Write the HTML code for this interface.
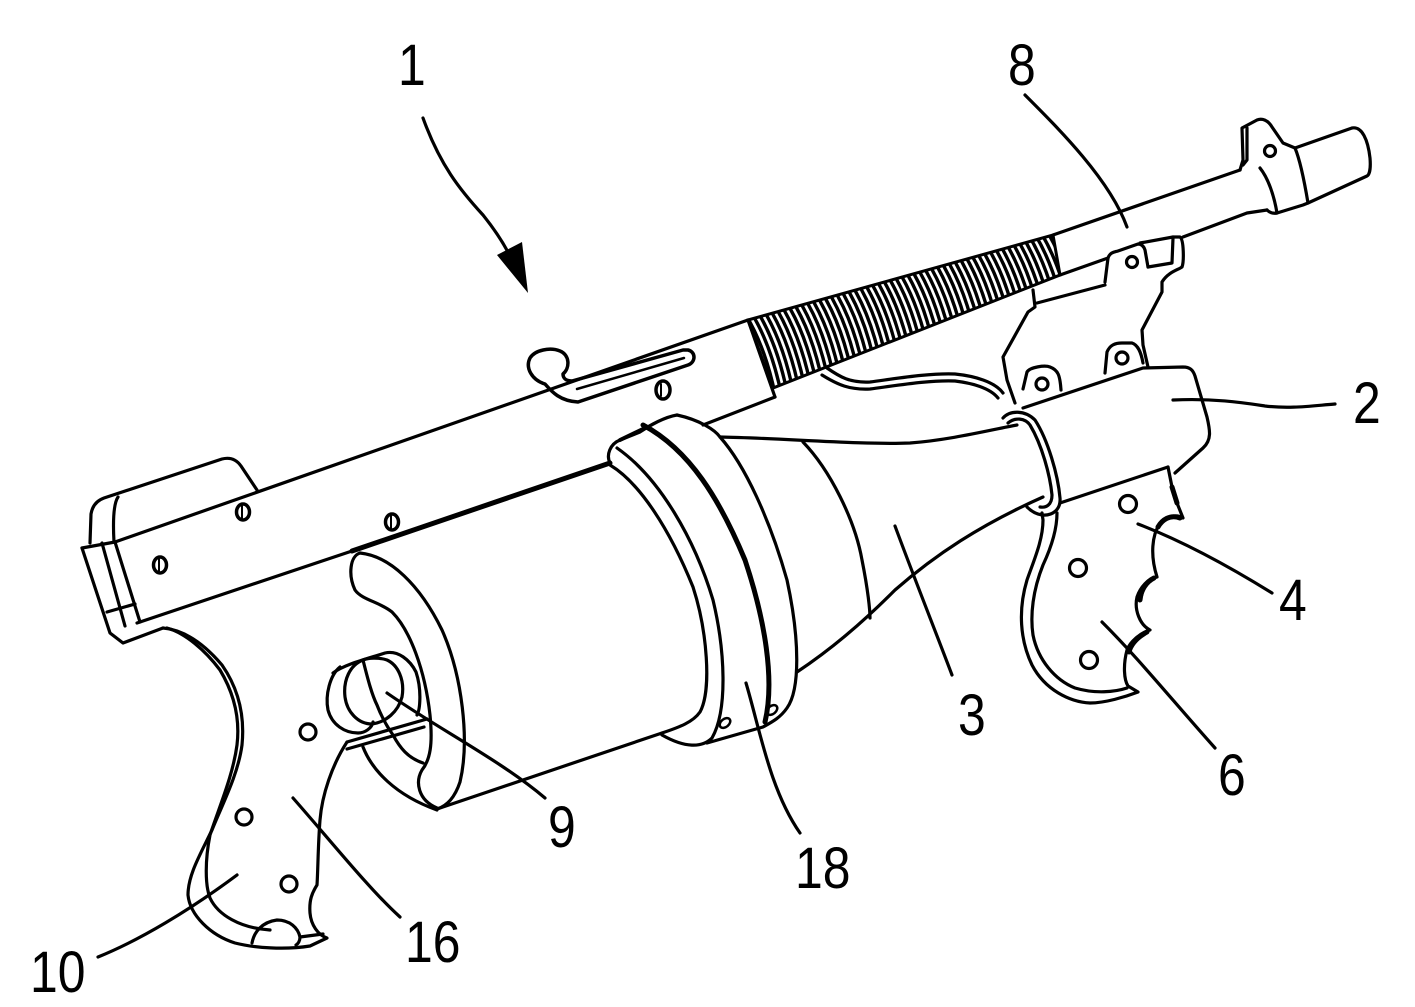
<!DOCTYPE html>
<html><head><meta charset="utf-8"><style>
html,body{margin:0;padding:0;background:#fff;}
svg{display:block;}
text{font-family:"Liberation Sans",Arial,sans-serif;font-size:58px;fill:#000;}
</style></head><body>
<svg width="1415" height="1007" viewBox="0 0 1415 1007" xmlns="http://www.w3.org/2000/svg" xmlns:xlink="http://www.w3.org/1999/xlink">
<defs>
<clipPath id="sp"><polygon points="748,320 1053,235 1060,275 773,388"/></clipPath>
<path id="c" d="M-4,-8 Q20,30 30,90"/>
</defs>

<g clip-path="url(#sp)" fill="none" stroke="#000" stroke-width="3.4">
<use xlink:href="#c" transform="translate(748,320)"/>
<use xlink:href="#c" transform="translate(753.9,318.35)"/>
<use xlink:href="#c" transform="translate(759.8,316.7)"/>
<use xlink:href="#c" transform="translate(765.7,315.05)"/>
<use xlink:href="#c" transform="translate(771.6,313.4)"/>
<use xlink:href="#c" transform="translate(777.5,311.75)"/>
<use xlink:href="#c" transform="translate(783.4,310.1)"/>
<use xlink:href="#c" transform="translate(789.3,308.45)"/>
<use xlink:href="#c" transform="translate(795.2,306.8)"/>
<use xlink:href="#c" transform="translate(801.1,305.15)"/>
<use xlink:href="#c" transform="translate(807,303.5)"/>
<use xlink:href="#c" transform="translate(812.9,301.85)"/>
<use xlink:href="#c" transform="translate(818.8,300.2)"/>
<use xlink:href="#c" transform="translate(824.7,298.55)"/>
<use xlink:href="#c" transform="translate(830.6,296.9)"/>
<use xlink:href="#c" transform="translate(836.5,295.25)"/>
<use xlink:href="#c" transform="translate(842.4,293.6)"/>
<use xlink:href="#c" transform="translate(848.3,291.95)"/>
<use xlink:href="#c" transform="translate(854.2,290.3)"/>
<use xlink:href="#c" transform="translate(860.1,288.65)"/>
<use xlink:href="#c" transform="translate(866,287)"/>
<use xlink:href="#c" transform="translate(871.9,285.35)"/>
<use xlink:href="#c" transform="translate(877.8,283.7)"/>
<use xlink:href="#c" transform="translate(883.7,282.05)"/>
<use xlink:href="#c" transform="translate(889.6,280.4)"/>
<use xlink:href="#c" transform="translate(895.5,278.75)"/>
<use xlink:href="#c" transform="translate(901.4,277.1)"/>
<use xlink:href="#c" transform="translate(907.3,275.45)"/>
<use xlink:href="#c" transform="translate(913.2,273.8)"/>
<use xlink:href="#c" transform="translate(919.1,272.15)"/>
<use xlink:href="#c" transform="translate(925,270.5)"/>
<use xlink:href="#c" transform="translate(930.9,268.85)"/>
<use xlink:href="#c" transform="translate(936.8,267.2)"/>
<use xlink:href="#c" transform="translate(942.7,265.55)"/>
<use xlink:href="#c" transform="translate(948.6,263.9)"/>
<use xlink:href="#c" transform="translate(954.5,262.25)"/>
<use xlink:href="#c" transform="translate(960.4,260.6)"/>
<use xlink:href="#c" transform="translate(966.3,258.95)"/>
<use xlink:href="#c" transform="translate(972.2,257.3)"/>
<use xlink:href="#c" transform="translate(978.1,255.65)"/>
<use xlink:href="#c" transform="translate(984,254)"/>
<use xlink:href="#c" transform="translate(989.9,252.35)"/>
<use xlink:href="#c" transform="translate(995.8,250.7)"/>
<use xlink:href="#c" transform="translate(1001.7,249.05)"/>
<use xlink:href="#c" transform="translate(1007.6,247.4)"/>
<use xlink:href="#c" transform="translate(1013.5,245.75)"/>
<use xlink:href="#c" transform="translate(1019.4,244.1)"/>
<use xlink:href="#c" transform="translate(1025.3,242.45)"/>
<use xlink:href="#c" transform="translate(1031.2,240.8)"/>
<use xlink:href="#c" transform="translate(1037.1,239.15)"/>
<use xlink:href="#c" transform="translate(1043,237.5)"/>
<use xlink:href="#c" transform="translate(1048.9,235.85)"/>
</g>
<polygon points="748,320 1053,235 1060,275 773,388" fill="none" stroke="#000" stroke-width="3"/>

<g fill="none" stroke="#000" stroke-width="3.2" stroke-linecap="round" stroke-linejoin="round">
<path d="M115,542 L748,320"/>
<path d="M137,623 L352,551"/>
<path d="M352,551 L610,463" stroke-width="5"/>
<path d="M703,425 L775,397"/>
<path d="M748,320 L775,397"/>
<path d="M90,543 L91,514 Q93,502 104,498 L222,459 Q234,456 241,466 L257,490"/>
<path d="M118,497 Q112,506 114,542"/>
<path d="M82,548 L110,633 L123,643 L163,628"/>
<path d="M82,548 L115,542"/>
<path d="M102,543 L125,626"/>
<path d="M115,542 L140,622"/>
<path d="M107,612 L135,604"/>
<ellipse cx="160" cy="565" rx="6.5" ry="8" stroke-width="3.5"/>
<path d="M159,559 L159,571" stroke-width="2"/>
<ellipse cx="243" cy="512" rx="6.5" ry="8" stroke-width="3.5"/>
<path d="M242,506 L242,518" stroke-width="2"/>
<ellipse cx="392" cy="522" rx="6.5" ry="8" stroke-width="3.5"/>
<path d="M391,516 L391,528" stroke-width="2"/>
<ellipse cx="663" cy="390" rx="7" ry="9" stroke-width="3.5"/>
<path d="M661,384 L661,396" stroke-width="2"/>

<path d="M563,374 C570,368 570,355 560,351 C550,347 535,350 530,358 C525,368 532,380 545,384 C552,392 560,401 578,402 L688,365 C696,362 696,352 688,350 L683,350 L572,381 C566,381 563,378 563,374 Z" stroke-width="3.5"/>
<path d="M577,389 L684,358" stroke-width="2.5"/>

<path d="M827,368 C840,377 850,383 870,382 C900,378 930,373 955,374 C975,376 995,382 1003,393"/>
<path d="M822,375 C838,385 850,390 870,389 C900,385 930,380 955,381 C972,383 990,388 998,398"/>

<path d="M1053,235 L1240,170"/>
<path d="M1060,275 L1108,258"/>
<path d="M1140,243 L1173,237"/>
<path d="M1183,237 L1247,213 L1267,210"/>
<path d="M1037,303 L1105,285"/>
<path d="M1240,170 L1243,160 L1242,128 L1257,120 C1262,118 1268,120 1272,127 L1283,143 L1295,148 L1352,128 C1362,126 1368,140 1370,158 C1371,170 1369,175 1367,176 L1308,203"/>
<path d="M1295,148 C1300,160 1305,185 1308,203 L1303,205 L1277,213 C1272,214 1269,212 1267,210"/>
<path d="M1260,168 C1268,178 1274,195 1277,213"/>
<path d="M1247,128 L1247,160 L1243,165"/>
<circle cx="1270" cy="151" r="5.5"/>
<path d="M1105,282 L1108,258 C1110,252 1115,252 1118,251 L1138,244 C1142,244 1144,247 1145,250 L1148,267"/>
<circle cx="1132" cy="262" r="5.5"/>
<path d="M1173,237 L1180,237 C1184,240 1184,262 1182,267 C1178,270 1168,272 1162,282 L1162,292 L1142,330 L1143,345 L1148,367"/>
<path d="M1173,238 L1172,263 L1148,267"/>
<path d="M1033,290 L1035,307 L1028,312 L1003,357 L1007,380 L1015,403"/>
<path d="M1023,389 L1027,372 C1030,367 1045,365 1050,367 C1058,370 1060,375 1061,390"/>
<circle cx="1042" cy="384" r="6"/>
<path d="M1105,373 L1107,352 C1110,345 1115,343 1122,343 L1132,343 C1138,345 1141,352 1143,363"/>
<circle cx="1122" cy="358" r="6"/>

<path d="M1023,408 L1143,368 L1183,367 C1190,367 1193,370 1195,376 L1207,417 C1210,430 1212,440 1203,448 L1175,473"/>
<path d="M1060,503 L1168,467"/>
<path d="M1003,418 C1010,410 1025,410 1035,420 C1048,440 1058,475 1060,498 C1061,510 1052,516 1042,515 C1035,514 1030,510 1027,507"/>
<path d="M1008,423 C1015,417 1025,418 1030,425 C1042,445 1050,475 1052,495 C1052,505 1046,508 1040,507"/>

<path d="M1168,467 L1172,487 L1177,503 L1183,518 C1175,513 1165,518 1160,523 C1152,535 1150,555 1157,577 C1148,578 1140,588 1137,597 C1134,610 1140,625 1150,630 C1140,633 1130,642 1127,650 C1123,665 1124,680 1128,686 L1138,692 C1125,697 1105,703 1090,703 C1070,702 1045,690 1032,665 C1020,640 1018,610 1027,580 C1034,560 1043,540 1043,520 L1042,513"/>
<path d="M1172,487 L1177,503" stroke-width="5"/>
<path d="M1180,518 C1170,514 1162,520 1158,527" stroke-width="5"/>
<path d="M1154,578 C1146,582 1141,590 1140,600" stroke-width="5"/>
<path d="M1147,632 C1138,637 1131,644 1129,652" stroke-width="5"/>
<path d="M1057,513 C1057,530 1050,550 1043,565 C1033,590 1030,615 1033,635 C1038,660 1055,680 1075,688 C1095,694 1115,692 1127,688"/>
<circle cx="1128" cy="504" r="8.5"/>
<circle cx="1078" cy="568" r="8.5"/>
<circle cx="1089" cy="660" r="8.5"/>

<path d="M720,437 C780,438 860,445 910,443 C950,440 990,430 1017,425"/>
<path d="M797,672 C830,650 860,625 895,590 C935,555 980,525 1043,497"/>
<path d="M803,442 C830,470 855,520 862,560 C868,590 870,610 870,618"/>

<path d="M360,553 C350,556 348,575 355,590 C362,600 380,602 392,612 C410,630 425,670 430,715 C433,745 430,760 422,770 C415,782 418,800 437,808"/>
<path d="M360,553 C390,556 420,585 442,630 C462,675 470,740 460,782 C455,797 447,806 437,809"/>
<path d="M363,747 C372,770 395,795 437,810"/>
<path d="M437,809 L662,733"/>
<path d="M610,465 C640,483 670,530 693,587 C707,630 712,690 700,712 C693,722 680,727 662,733"/>
<path d="M617,448 C660,478 695,540 713,600 C725,650 728,710 712,738 C702,748 685,748 662,735"/>
<path d="M643,425 C690,450 720,500 745,560 C765,620 775,680 765,722" stroke-width="5"/>
<path d="M677,415 C700,420 715,430 720,437 C745,465 770,520 787,580 C800,640 800,690 787,708 C780,718 772,722 763,727 L707,743"/>
<path d="M610,463 C606,455 610,444 620,440 L640,432 C650,425 665,417 677,415"/>
<path d="M620,440 L645,428" stroke-width="4"/>
<ellipse cx="725" cy="723" rx="6" ry="4" transform="rotate(-40 725 723)" stroke-width="2.5"/>
<ellipse cx="772" cy="710" rx="6" ry="4" transform="rotate(-40 772 710)" stroke-width="2.5"/>

<path d="M333,673 C345,664 370,658 385,653 C398,650 410,660 416,672 C422,690 420,710 417,715"/>
<path d="M340,667 C330,675 325,695 328,710 C332,725 345,733 358,733 C365,733 372,728 373,722"/>
<path d="M363,660 C350,665 343,680 345,697 C347,712 358,724 372,724 C386,722 398,712 402,697 C405,680 398,665 387,660 C378,657 368,658 363,660"/>
<path d="M363,660 C368,680 372,695 377,705 C382,718 388,728 393,735 C400,748 408,758 423,763"/>
<path d="M347,742 L427,719"/>
<path d="M347,749 L424,727"/>

<path d="M163,628 C185,630 205,645 222,665 C238,688 245,715 242,745 C238,775 222,805 212,830 C200,855 188,875 188,895 C190,915 210,935 235,943 C255,948 285,950 310,946 L327,938 C318,935 311,925 310,913 C309,900 312,893 317,885 C318,870 318,845 320,820 C322,795 332,765 347,742"/>
<path d="M167,628 C185,633 205,650 220,670 C235,695 240,720 237,745 C233,775 220,805 210,835 C205,860 205,885 210,898 C218,915 240,928 270,930"/>
<path d="M252,943 C254,932 262,922 277,920 C290,920 298,928 300,937 C300,941 298,944 296,945"/>
<path d="M300,937 L323,934"/>
<circle cx="308" cy="732" r="8"/>
<circle cx="244" cy="817" r="8"/>
<circle cx="289" cy="884" r="8"/>

<path d="M423,118 C440,165 460,190 483,215 C495,230 503,242 510,256"/>
<path d="M1025,95 C1060,130 1110,180 1127,227"/>
<path d="M1173,400 C1215,398 1245,403 1265,406 C1290,409 1310,406 1335,404"/>
<path d="M1138,524 C1180,540 1222,562 1272,593"/>
<path d="M1102,622 C1140,660 1172,700 1215,748"/>
<path d="M895,526 C915,580 935,630 952,675"/>
<path d="M746,683 C760,730 770,790 800,833"/>
<path d="M387,693 C440,730 500,760 545,798"/>
<path d="M293,798 C330,840 370,890 400,917"/>
<path d="M237,875 C190,910 140,940 98,957"/>
</g>
<polygon points="497,255 522,242 528,293" fill="#000"/>

<text transform="translate(398,85) scale(0.86,1)">1</text>
<text transform="translate(1008,85) scale(0.86,1)">8</text>
<text transform="translate(1353,423) scale(0.86,1)">2</text>
<text transform="translate(1279,620) scale(0.86,1)">4</text>
<text transform="translate(958,735) scale(0.86,1)">3</text>
<text transform="translate(1218,795) scale(0.86,1)">6</text>
<text transform="translate(548,847) scale(0.86,1)">9</text>
<text transform="translate(795,888) scale(0.86,1)">18</text>
<text transform="translate(405,962) scale(0.86,1)">16</text>
<text transform="translate(30,992) scale(0.86,1)">10</text>
</svg>
</body></html>
